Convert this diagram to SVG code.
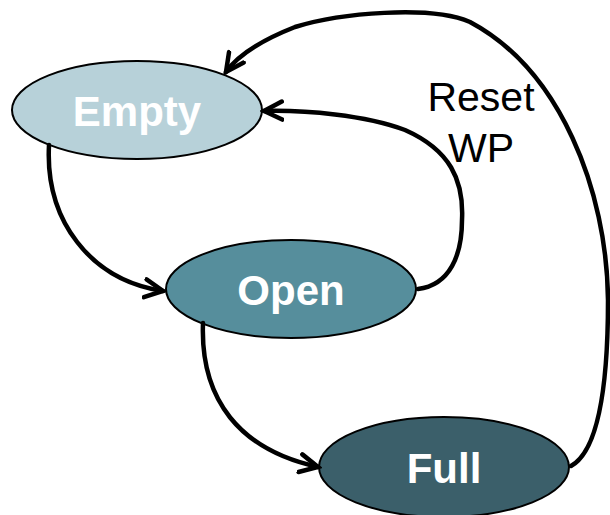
<svg xmlns="http://www.w3.org/2000/svg" width="610" height="515" viewBox="0 0 610 515">
<style>
.node{stroke:#000;stroke-width:2}
.lbl{font-family:"Liberation Sans",Arial,sans-serif;font-weight:bold;font-size:42px;fill:#fff;text-anchor:middle}
.edge{fill:none;stroke:#000;stroke-width:4.5;stroke-linecap:round}
.elbl{font-family:"Liberation Sans",Arial,sans-serif;font-size:41px;fill:#000;text-anchor:middle}
</style>
<defs>
<marker id="arr" markerUnits="userSpaceOnUse" markerWidth="24" markerHeight="24" viewBox="0 0 24 24" refX="20" refY="12" orient="auto">
<path d="M2,3 L20,12 L2,21" fill="none" stroke="#000" stroke-width="4.5" stroke-linecap="round" stroke-linejoin="miter"/>
</marker>
</defs>
<rect width="610" height="515" fill="#fff"/>
<g id="empty">
<ellipse class="node" cx="137" cy="110" rx="125" ry="49" fill="#B7D1D9"/>
<text class="lbl" x="137" y="126">Empty</text>
</g>
<g id="open">
<ellipse class="node" cx="291" cy="289" rx="125" ry="49" fill="#568E9C"/>
<text class="lbl" x="291" y="305">Open</text>
</g>
<g id="full">
<ellipse class="node" cx="444" cy="467" rx="125" ry="50" fill="#3B5F6A"/>
<text class="lbl" x="444" y="483">Full</text>
</g>
<g id="connectors">
<path class="edge" marker-end="url(#arr)" d="M49,145 C 45,220 90,280 163,291"/>
<path class="edge" marker-end="url(#arr)" d="M203,323 C 200,400 240,450 318,467"/>
<path class="edge" marker-end="url(#arr)" d="M418,289 C 450,285 462,255 462,220 C 464,180 450,150 405,130 C 365,115 305,110 264,111"/>
<path class="edge" marker-end="url(#arr)" d="M571,466 C 600,450 608,380 608,300 C 607,190 560,70 470,22 C 430,5 340,13 295,27 C 262,40 238,55 226,72"/>
<text class="elbl" x="481" y="111">Reset</text>
<text class="elbl" x="481" y="162">WP</text>
</g>
</svg>
